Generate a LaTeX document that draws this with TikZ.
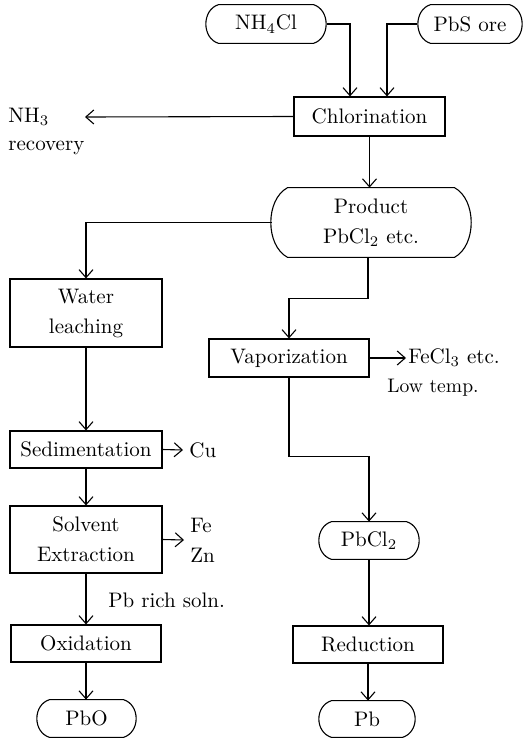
\documentclass[tikz,border=0pt]{standalone}
\usetikzlibrary{arrows.meta}
% #1 node, #2 depth of end arc, #3 control x beyond edge, #4 control y inset
\newcommand\drawstadium[4]{%
  \draw[line width=0.55pt] ([xshift=#2]#1.north west) -- ([xshift=-#2]#1.north east)
    .. controls ([xshift=#3,yshift=-#4]#1.north east) and ([xshift=#3,yshift=#4]#1.south east) .. ([xshift=-#2]#1.south east)
    -- ([xshift=#2]#1.south west)
    .. controls ([xshift=-#3,yshift=#4]#1.south west) and ([xshift=-#3,yshift=-#4]#1.north west) .. cycle;}
\begin{document}
\begin{tikzpicture}[x=0.5pt,y=-0.5pt,
  every node/.style={font=\fontsize{10.5}{15}\selectfont, inner sep=1pt},
  procbox/.style={draw, line width=0.55pt, align=center, inner sep=0pt},
  termbox/.style={align=center, inner sep=0pt},
  lbl/.style={anchor=west, align=left},
  arr/.style={line width=0.55pt, -{Straight Barb[length=4pt,width=7pt]}}]
\useasboundingbox (0,0) rectangle (524,738);

% terminals
\node[termbox, minimum width=61pt, minimum height=19pt] (nh4) at (266,24) {NH\textsubscript{4}Cl};
\node[termbox, minimum width=53pt, minimum height=19pt] (pbs) at (470,24) {PbS ore};
\node[termbox, minimum width=99pt, minimum height=34.5pt] (prod) at (371,222.5) {Product\\PbCl\textsubscript{2} etc.};
\node[termbox, minimum width=51pt, minimum height=18.5pt] (pbcl) at (369,540.5) {PbCl\textsubscript{2}};
\node[termbox, minimum width=50.5pt, minimum height=18.5pt] (pbo) at (86.5,718.5) {PbO};
\node[termbox, minimum width=49pt, minimum height=18pt] (pb) at (367,719) {Pb};
\drawstadium{nh4}{7pt}{1.5pt}{2.6pt}
\drawstadium{pbs}{7pt}{1.5pt}{2.6pt}
\drawstadium{prod}{8pt}{3.2pt}{6pt}
\drawstadium{pbcl}{7pt}{1.5pt}{2.6pt}
\drawstadium{pbo}{7pt}{1.5pt}{2.6pt}
\drawstadium{pb}{7pt}{1.5pt}{2.6pt}

% process boxes
\node[procbox, minimum width=75.5pt, minimum height=19.5pt] (chl) at (369.5,116.5) {Chlorination};
\node[procbox, minimum width=76pt, minimum height=34pt] (water) at (86,313) {Water\\leaching};
\node[procbox, minimum width=80pt, minimum height=19pt] (vap) at (289,358) {Vaporization};
\node[procbox, minimum width=76pt, minimum height=18.5pt] (sed) at (86,449.5) {Sedimentation};
\node[procbox, minimum width=76pt, minimum height=33.5pt] (solv) at (86,539.5) {Solvent\\Extraction};
\node[procbox, minimum width=75pt, minimum height=18.5pt] (oxi) at (86,643.5) {Oxidation};
\node[procbox, minimum width=75pt, minimum height=18.5pt] (red) at (368,644.5) {Reduction};

% labels
\node[lbl] (nh3) at (6,117) {NH\textsubscript{3}};
\node[lbl] (recov) at (6,148) {recovery};
\node[lbl] (fecl) at (406,358) {FeCl\textsubscript{3} etc.};
\node[font=\fontsize{9.8}{11}\selectfont] (low) at (433,388) {Low temp.};
\node[lbl, inner sep=3pt] (cu) at (183,450) {Cu};
\node[lbl, inner sep=3pt] (fezn) at (184,540) {Fe\\Zn};
\node[lbl] (rich) at (106,600) {Pb rich soln.};
\coordinate (nh3tip) at (85,117);

% connectors
\draw[arr] (nh4.east) -| ([xshift=-9.75pt]chl.north);
\draw[arr] (pbs.west) -| ([xshift=8.75pt]chl.north);
\draw[arr] (chl.west) -- (nh3tip);
\draw[arr] (chl.south) -- (chl.south |- prod.north);
\draw[arr] (prod.west) -| (water.north);
\draw[arr] ([xshift=-1.5pt]prod.south) -- ++(0,41) -| (vap.north);
\draw[arr] (vap.east) -- (fecl.west);
\draw[arr] (vap.south) -- ++(0,79) -| (pbcl.north);
\draw[arr] (pbcl.south) -- (pbcl.south |- red.north);
\draw[arr] (red.south) -- (red.south |- pb.north);
\draw[arr] (water.south) -- (sed.north);
\draw[arr] (sed.east) -- (cu.west);
\draw[arr] (sed.south) -- (solv.north);
\draw[arr] (solv.east) -- (fezn.west);
\draw[arr] (solv.south) -- (oxi.north);
\draw[arr] (oxi.south) -- (oxi.south |- pbo.north);
\end{tikzpicture}
\end{document}
